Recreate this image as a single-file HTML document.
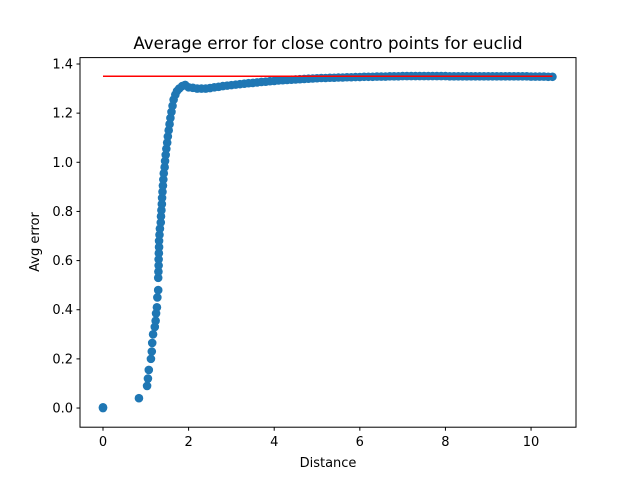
<!DOCTYPE html>
<html><head><meta charset="utf-8"><style>
body{margin:0;background:#fff}
svg{display:block;font-family:"DejaVu Sans","Liberation Sans",sans-serif}
</style></head><body>
<svg id="chart" width="640" height="480" viewBox="0 0 640 480"></svg>
<script>
const xVals=[0,0,0.84,1.03,1.05,1.07,1.12,1.14,1.15,1.17,1.21,1.23,1.24,1.26,1.27,1.29,
1.29,1.295,1.30,1.30,1.305,1.31,1.31,1.32,1.33,1.35,1.355,1.365,1.375,1.38,1.39,1.40,1.41,1.42,1.44,1.45,1.465,1.48,1.50,1.515,1.535,1.555,1.575,1.60,1.625,1.65,1.69,1.73,1.78,1.85,1.92,
2.0,2.1,2.2,2.3,2.4,2.5,2.6,2.7,2.8,2.9,3.0,3.1,3.2,3.3,3.4,3.5,3.6,3.7,3.8,3.9,4.0,4.1,4.2,4.3,4.4,4.5,4.6,4.7,4.8,4.9,5.0,5.1,5.2,5.3,5.4,5.5,5.6,5.7,5.8,5.9,6.0,
6.1,6.2,6.3,6.4,6.5,6.6,6.7,6.8,6.9,7.0,7.1,7.2,7.3,7.4,7.5,7.6,7.7,7.8,7.9,8.0,8.1,8.2,8.3,8.4,8.5,8.6,8.7,8.8,8.9,9.0,9.1,9.2,9.3,9.4,9.5,9.6,9.7,9.8,9.9,10.0,10.1,10.2,10.3,10.4,10.5];
const yVals=[0,0.003,0.04,0.09,0.12,0.155,0.20,0.23,0.265,0.30,0.33,0.355,0.385,0.41,0.45,0.48,
0.53,0.555,0.58,0.605,0.63,0.655,0.68,0.705,0.73,0.755,0.78,0.805,0.83,0.855,0.88,0.905,0.93,0.955,0.98,1.005,1.03,1.055,1.08,1.105,1.13,1.155,1.18,1.205,1.23,1.255,1.275,1.29,1.30,1.31,1.315,
1.305,1.303,1.30,1.30,1.30,1.302,1.305,1.307,1.31,1.312,1.314,1.316,1.318,1.32,1.322,1.323,1.325,1.327,1.328,1.33,1.331,1.333,1.334,1.335,1.336,1.337,1.338,1.339,1.34,1.341,1.342,1.343,1.343,1.344,1.344,1.345,1.345,1.346,1.346,1.347,1.347,
1.348,1.348,1.348,1.349,1.349,1.349,1.35,1.35,1.35,1.351,1.351,1.351,1.351,1.351,1.351,1.351,1.351,1.351,1.351,1.351,1.35,1.35,1.35,1.35,1.35,1.35,1.35,1.35,1.35,1.35,1.35,1.35,1.35,1.35,1.35,1.35,1.35,1.35,1.35,1.349,1.349,1.349,1.349,1.348,1.348];
const refY=[1.35];
const refX=[0,10.5];
const xTicks=[0,2,4,6,8,10];
const yTicks=[0.0,0.2,0.4,0.6,0.8,1.0,1.2,1.4];

const L=80,R=576,T=57.6,B=427.2;
const xMin=-0.537,xMax=11.05,yMin=-0.078,yMax=1.426;
const sx=v=>L+(v-xMin)/(xMax-xMin)*(R-L);
const sy=v=>B-(v-yMin)/(yMax-yMin)*(B-T);
const svg=document.getElementById('chart');
const NS='http://www.w3.org/2000/svg';
function mk(t,a,p){const e=document.createElementNS(NS,t);for(const k in a)e.setAttribute(k,a[k]);(p||svg).appendChild(e);return e;}

const pts=mk('g',{});


for(let i=0;i<xVals.length;i++){
  const c=mk('circle',{cx:sx(xVals[i]),cy:sy(yVals[i]),r:4.3,fill:'#1f77b4'},pts);
  
  
}
const rl=mk('line',{x1:sx(refX[0]),x2:sx(refX[1]),y1:sy(refY[0]),y2:sy(refY[0]),stroke:'#ff0000','stroke-width':1.5});



const fr=mk('rect',{x:L,y:T,width:R-L,height:B-T,fill:'none',stroke:'#000','stroke-width':1});



for(const t of xTicks){
  const x=sx(t);
  mk('line',{x1:x,x2:x,y1:B,y2:B+3.5,stroke:'#000'});
  const tx=mk('text',{x:x,y:B+19,'font-size':13,'text-anchor':'middle'});
  tx.textContent=String(t);
  
  
}
for(const t of yTicks){
  const y=sy(t);
  mk('line',{x1:L-3.5,x2:L,y1:y,y2:y,stroke:'#000'});
  const tx=mk('text',{x:L-7,y:y+4.5,'font-size':13,'text-anchor':'end'});
  tx.textContent=t.toFixed(1);
  
  
}
const xt=mk('text',{x:(L+R)/2,y:467,'font-size':13,'text-anchor':'middle'});
xt.textContent='Distance';


const yt=mk('text',{x:0,y:0,'font-size':13,'text-anchor':'middle',transform:'translate(39,242) rotate(-90)'});
yt.textContent='Avg error';


const tt=mk('text',{x:(L+R)/2,y:49,'font-size':16.7,'text-anchor':'middle'});
tt.textContent='Average error for close contro points for euclid';


</script>
</body></html>
